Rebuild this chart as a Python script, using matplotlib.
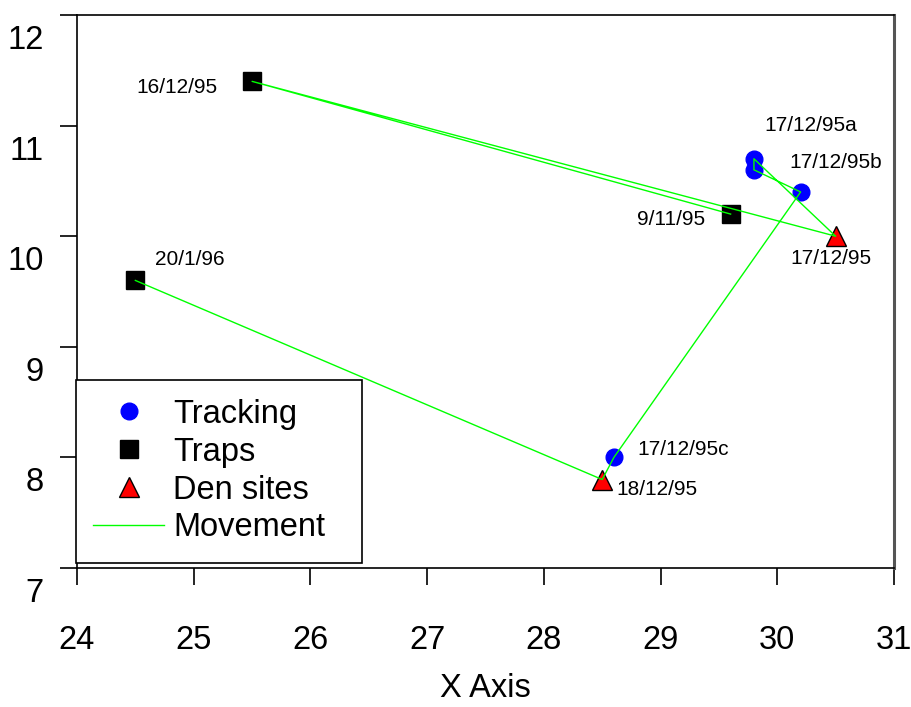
import matplotlib
matplotlib.use("Agg")
import matplotlib.pyplot as plt
from matplotlib.lines import Line2D
from matplotlib.patches import Rectangle
from matplotlib.transforms import ScaledTranslation

plt.rcParams['font.family'] = ['Liberation Sans', 'DejaVu Sans']

# radio-tracking fixes
track_x = [29.8, 29.8, 30.2, 28.6]
track_y = [10.7, 10.6, 10.4, 8.0]

# trap locations
trap_x = [25.5, 24.5, 29.6]
trap_y = [11.4, 9.6, 10.2]

# den sites
den_x = [30.5, 28.5]
den_y = [10.0, 7.8]

# movement path, in date order
path_x = [29.6, 25.5, 30.5, 29.8, 29.8, 30.2, 28.6, 28.5, 24.5]
path_y = [10.2, 11.4, 10.0, 10.7, 10.6, 10.4, 8.0, 7.8, 9.6]

# point labels (text, x, y)
labels = [
    ("16/12/95", 24.86, 11.34),
    ("20/1/96", 24.97, 9.79),
    ("9/11/95", 29.09, 10.15),
    ("17/12/95", 30.46, 9.80),
    ("17/12/95a", 30.29, 11.00),
    ("17/12/95b", 30.50, 10.67),
    ("17/12/95c", 29.19, 8.07),
    ("18/12/95", 28.97, 7.71),
]

fig = plt.figure(figsize=(9.12, 7.07), dpi=100)
ax = fig.add_axes([77 / 912, 139 / 707, 817 / 912, 553 / 707])

ax.plot(track_x, track_y, 'o', color='blue', ms=12, mec='blue', zorder=3)
ax.plot(trap_x, trap_y, 's', color='black', ms=13, zorder=3)
ax.plot(den_x, den_y, '^', color='red', mec='black', mew=1, ms=15, zorder=3)
ax.plot(path_x, path_y, '-', color='#00ff00', lw=1, zorder=4)

for txt, x, y in labels:
    ax.text(x, y, txt, fontsize=15, ha='center', va='center')

ax.set_xlim(24, 31)
ax.set_ylim(7, 12)
ax.set_xticks(range(24, 32))
ax.set_yticks(range(7, 13))

for side in ['left', 'top', 'bottom']:
    ax.spines[side].set_linewidth(1.2)
ax.spines['right'].set_linewidth(2.2)
ax.spines['right'].set_color('#555555')

ax.tick_params(axis='both', direction='out', length=12, width=1.2, labelsize=23.5)
ax.tick_params(axis='x', pad=29)
ax.tick_params(axis='y', pad=12)
shift = ScaledTranslation(0, -0.22, fig.dpi_scale_trans)
for lab in ax.get_yticklabels():
    lab.set_transform(lab.get_transform() + shift)

ax.set_xlabel("X Axis", fontsize=23.5, labelpad=12)

# legend box drawn separately so it can be wider than the entries
ax.add_patch(Rectangle((-1 / 817, 5 / 553), 286 / 817, 183 / 553,
                       transform=ax.transAxes, facecolor='white',
                       edgecolor='black', lw=1.2, zorder=5, clip_on=False))

handles = [
    Line2D([], [], marker='o', ls='none', color='blue', ms=12),
    Line2D([], [], marker='s', ls='none', color='black', ms=13),
    Line2D([], [], marker='^', ls='none', color='red', mec='black', mew=1, ms=15),
    Line2D([], [], color='#00ff00', lw=1),
]
leg = ax.legend(handles, ["Tracking", "Traps", "Den sites", "Movement"],
                loc='lower left', bbox_to_anchor=(-3 / 817, 6 / 553), borderaxespad=0,
                fontsize=23.5, frameon=False,
                handlelength=2.2, handletextpad=0.26, labelspacing=0.21,
                borderpad=0.57)
leg.set_zorder(6)

fig.savefig("out.png", dpi=100)
